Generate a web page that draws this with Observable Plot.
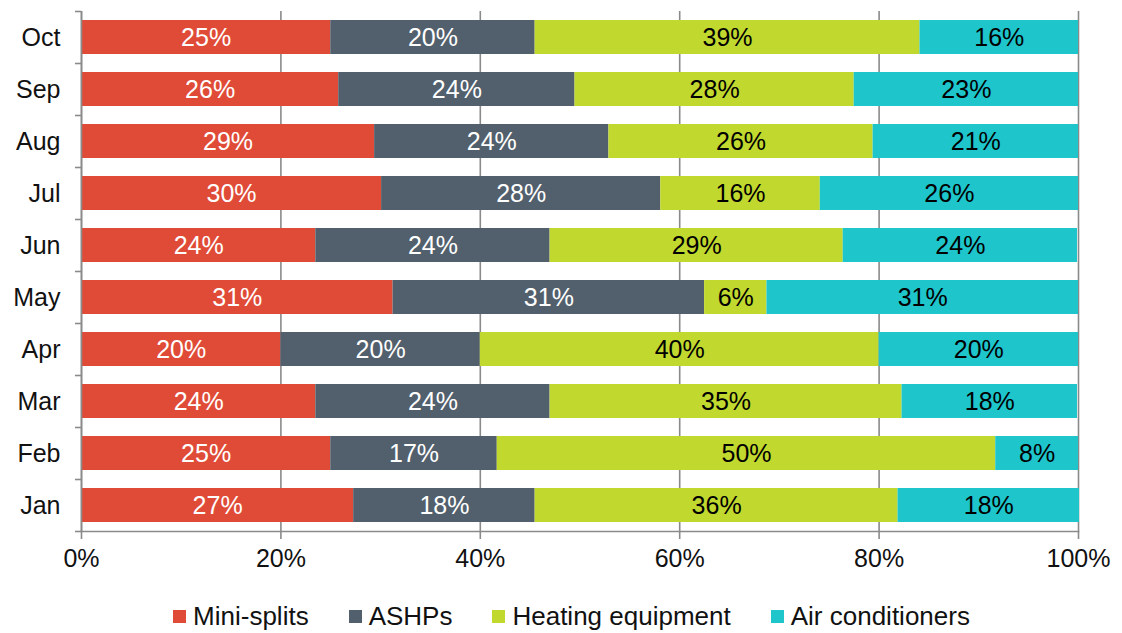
<!DOCTYPE html>
<html>
<head>
<meta charset="utf-8">
<script src="https://cdn.jsdelivr.net/npm/d3@7"></script>
<script src="https://cdn.jsdelivr.net/npm/@observablehq/plot@0.6"></script>
<style>
  html, body { margin: 0; padding: 0; background: #fff; }
  body { width: 1122px; height: 633px; overflow: hidden; font-family: "Liberation Sans", Arial, sans-serif; }
  #chart svg { display: block; }
  #legend { display: flex; justify-content: center; gap: 40px; margin-top: 16px; padding-left: 21px; font-size: 26px; line-height: 30px; color: #111; }
  #legend .item { display: flex; align-items: center; }
  #legend .sw { width: 13px; height: 13px; margin-right: 7px; }
</style>
</head>
<body>
<div id="chart"></div>
<div id="legend"></div>
<script>
const months = ["Jan","Feb","Mar","Apr","May","Jun","Jul","Aug","Sep","Oct"];
const series = ["Mini-splits","ASHPs","Heating equipment","Air conditioners"];
const colors = ["#E04B37","#525F6C","#C1D82F","#1EC5CB"];
const xTicks = [0,20,40,60,80,100];

const miniSplits = [27.3,25.0,23.5,20.0,31.25,23.5,30.1,29.4,25.8,25.0];
const ashps      = [18.2,16.7,23.5,20.0,31.25,23.5,28.0,23.5,23.7,20.5];
const heating    = [36.4,50.0,35.3,40.0,6.25,29.4,16.0,26.5,28.0,38.6];
const airCon     = [18.2,8.3,17.6,20.0,31.25,23.5,25.9,20.6,22.5,15.9];

const miniLabels = [27,25,24,20,31,24,30,29,26,25];
const ashpLabels = [18,17,24,20,31,24,28,24,24,20];
const heatLabels = [36,50,35,40,6,29,16,26,28,39];
const airLabels  = [18,8,18,20,31,24,26,21,23,16];

const valueSets = [miniSplits, ashps, heating, airCon];
const labelSets = [miniLabels, ashpLabels, heatLabels, airLabels];
const whiteText = new Set(["Mini-splits","ASHPs"]);

const data = [];
months.forEach((m, i) => {
  series.forEach((s, j) => {
    data.push({month: m, series: s, value: valueSets[j][i], label: labelSets[j][i] + "%"});
  });
});

const font = "Liberation Sans, Arial, sans-serif";
const grid = "#8a8a8a";

const chart = Plot.plot({
  width: 1122,
  height: 585,
  marginLeft: 81,
  marginRight: 44,
  marginTop: 11,
  marginBottom: 54,
  style: {fontFamily: font, fontSize: "25px", color: "#111", background: "white"},
  x: {domain: [0, 100], axis: null},
  y: {domain: months.slice().reverse(), paddingInner: 0.34, paddingOuter: 0.17, axis: null},
  color: {domain: series, range: colors},
  marks: [
    Plot.ruleX(xTicks, {stroke: grid, strokeWidth: 1.6}),
    Plot.barX(data, Plot.stackX({x: "value", y: "month", fill: "series", order: series})),
    Plot.text(data, Plot.stackX({
      x: "value", y: "month", order: series, text: "label",
      fill: d => whiteText.has(d.series) ? "white" : "black",
      fontSize: 25
    })),
    Plot.frame({anchor: "bottom", stroke: grid, strokeWidth: 1.6}),
    Plot.ruleX([0], {stroke: grid, strokeWidth: 1.6}),
    Plot.axisX(xTicks, {label: null, tickSize: 8, tickPadding: 10, stroke: grid, strokeWidth: 1.6, fill: "#111", fontSize: 25, tickFormat: d => d + "%"}),
    Plot.axisY({label: null, tickSize: 0, tickPadding: 21, fill: "#111", fontSize: 25}),
    Plot.axisY({label: null, tickSize: 6, tickFormat: null, stroke: grid, strokeWidth: 1.6, dy: -26}),
    Plot.axisY(["Jan"], {label: null, tickSize: 6, tickFormat: null, stroke: grid, strokeWidth: 1.6, dy: 26})
  ]
});
document.getElementById("chart").appendChild(chart);

const legend = document.getElementById("legend");
series.forEach((s, j) => {
  const item = document.createElement("div");
  item.className = "item";
  const sw = document.createElement("span");
  sw.className = "sw";
  sw.style.background = colors[j];
  const t = document.createElement("span");
  t.textContent = s;
  item.appendChild(sw);
  item.appendChild(t);
  legend.appendChild(item);
});
</script>
</body>
</html>
